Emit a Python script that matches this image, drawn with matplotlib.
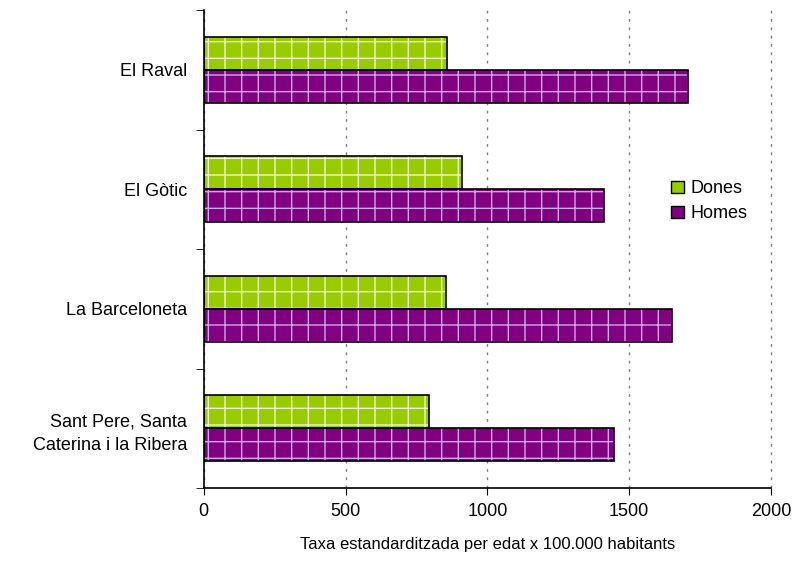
import numpy as np
import matplotlib.pyplot as plt

plt.rcParams['font.family'] = ['Liberation Sans', 'DejaVu Sans']

barris = ["El Raval", "El Gòtic", "La Barceloneta", "Sant Pere, Santa\nCaterina i la Ribera"]
dones = [857, 910, 853, 793]
homes = [1706, 1410, 1651, 1446]

pos = np.arange(len(barris))[::-1]
h = 0.276

fig = plt.figure(figsize=(7.96, 5.63), dpi=100)
ax = fig.add_axes([0.256, 0.1332, 0.7126, 0.8490])

# filled bars with light grid pattern, then black outlines on top
ax.barh(pos + h/2, dones, height=h, color="#99cc00", edgecolor="#f0f7d0",
        hatch="+", linewidth=0, zorder=2)
ax.barh(pos - h/2, homes, height=h, color="#800080", edgecolor="#d0a8f0",
        hatch="+", linewidth=0, zorder=2)
ax.barh(pos + h/2, dones, height=h, fill=False, edgecolor="black", linewidth=1.2, zorder=3)
ax.barh(pos - h/2, homes, height=h, fill=False, edgecolor="black", linewidth=1.2, zorder=3)

# legend proxies
ax.barh([10], [1], color="#99cc00", edgecolor="black", label="Dones")
ax.barh([10], [1], color="#800080", edgecolor="black", label="Homes")

ax.set_xlim(0, 2000)
ax.set_ylim(-0.5, 3.5)
ax.set_xticks([0, 500, 1000, 1500, 2000])
ax.tick_params(axis="x", labelsize=13, direction="out", length=5, pad=6)
ax.set_yticks(pos)
ax.set_yticklabels(barris, fontsize=13, linespacing=1.55)
ax.tick_params(axis="y", which="major", length=0, pad=12)
ax.set_yticks(np.arange(-0.5, 4, 1), minor=True)
ax.tick_params(axis="y", which="minor", length=6, direction="out")

ax.grid(axis="x", color="#808080", linestyle=(0, (2, 4)), linewidth=1, zorder=0)
for gl in ax.get_xgridlines():
    gl.set_clip_on(False)
ax.set_axisbelow(True)
for s in ["top", "right"]:
    ax.spines[s].set_visible(False)
ax.spines["left"].set_linewidth(1.2)
ax.spines["bottom"].set_linewidth(1.2)

ax.set_xlabel("Taxa estandarditzada per edat x 100.000 habitants", fontsize=12, labelpad=12)

leg = ax.legend(loc="center left", bbox_to_anchor=(0.795, 0.6), frameon=False,
                fontsize=13, handlelength=0.7, handleheight=0.7, handletextpad=0.4,
                labelspacing=0.45)

fig.savefig("out.png", dpi=100)
